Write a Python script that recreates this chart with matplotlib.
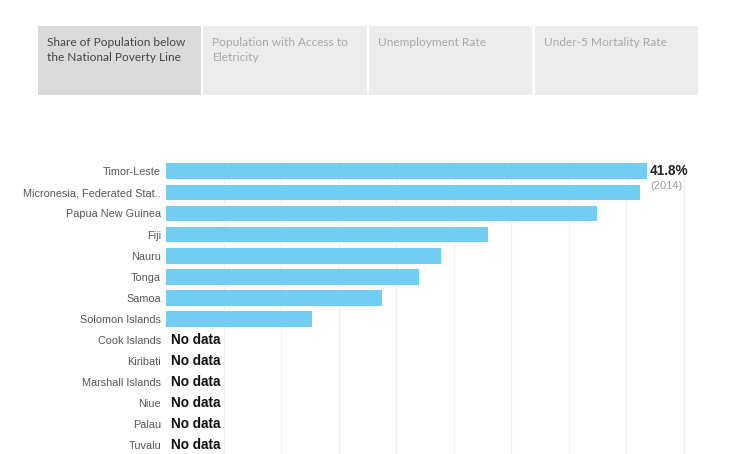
import matplotlib.pyplot as plt
from matplotlib.patches import Rectangle

W, H, DPI = 736, 454, 100

tabs = [
    "Share of Population below\nthe National Poverty Line",
    "Population with Access to\nEletricity",
    "Unemployment Rate",
    "Under-5 Mortality Rate",
]
active_tab = 0

countries = [
    "Timor-Leste", "Micronesia, Federated Stat..", "Papua New Guinea", "Fiji",
    "Nauru", "Tonga", "Samoa", "Solomon Islands", "Cook Islands", "Kiribati",
    "Marshall Islands", "Niue", "Palau", "Tuvalu",
]
poverty_share = [41.8, 41.2, 37.5, 28.0, 23.9, 22.0, 18.8, 12.7,
                 None, None, None, None, None, None]
top_label = "41.8%"
top_year = "(2014)"
grid_ticks = [5, 10, 15, 20, 25, 30, 35, 40, 45]

BAR = "#72CDF3"


def px_box(x0, y0, x1, y1):
    return [x0 / W, 1 - y1 / H, (x1 - x0) / W, (y1 - y0) / H]


fig = plt.figure(figsize=(W / DPI, H / DPI), dpi=DPI)

# tab strip drawn in pixel coordinates
top = fig.add_axes([0, 0, 1, 1])
top.set_xlim(0, W)
top.set_ylim(H, 0)
top.axis("off")
tab_x = [37.5, 203, 368.5, 534.5]
tab_w = 163.8
for i, (x, label) in enumerate(zip(tab_x, tabs)):
    face = "#DADADA" if i == active_tab else "#ECECEC"
    color = "#454545" if i == active_tab else "#A8A8A8"
    top.add_patch(Rectangle((x, 25.7), tab_w, 69.3, facecolor=face, edgecolor="none"))
    top.text(x + 9.5, 36.8, label, ha="left", va="top", fontsize=8.6,
             family="Lato", color=color, linespacing=1.5)

# bar chart
ax = fig.add_axes(px_box(166, 160.8, 736, 454))
ax.set_xlim(0, (736 - 166) / 11.5)
n = len(countries)
ax.set_ylim(13.41, -0.5)

for x in grid_ticks:
    ax.axvline(x, color="#F0F0F0", lw=1.0, zorder=0)

for i, v in enumerate(poverty_share):
    if v is None:
        ax.text(0.42, i, "No data", ha="left", va="center", fontsize=9.8,
                fontweight="bold", family="Liberation Sans", color="#111111")
    else:
        ax.barh(i, v, height=0.75, color=BAR, edgecolor="none", zorder=2)

ax.text(poverty_share[0] + 0.3, -0.02, top_label, ha="left", va="center",
        fontsize=9.8, fontweight="bold", family="Liberation Sans", color="#222222")
ax.text(poverty_share[0] + 0.3, 0.7, top_year, ha="left", va="center",
        fontsize=8.0, family="Liberation Sans", color="#A0A0A0")

ax.set_yticks(range(n))
ax.set_yticklabels(countries, family="Liberation Sans", fontsize=7.8, color="#555555")
ax.tick_params(axis="y", length=0, pad=3.6)
ax.set_xticks([])
for s in ax.spines.values():
    s.set_visible(False)

fig.savefig("out.png", dpi=DPI)
